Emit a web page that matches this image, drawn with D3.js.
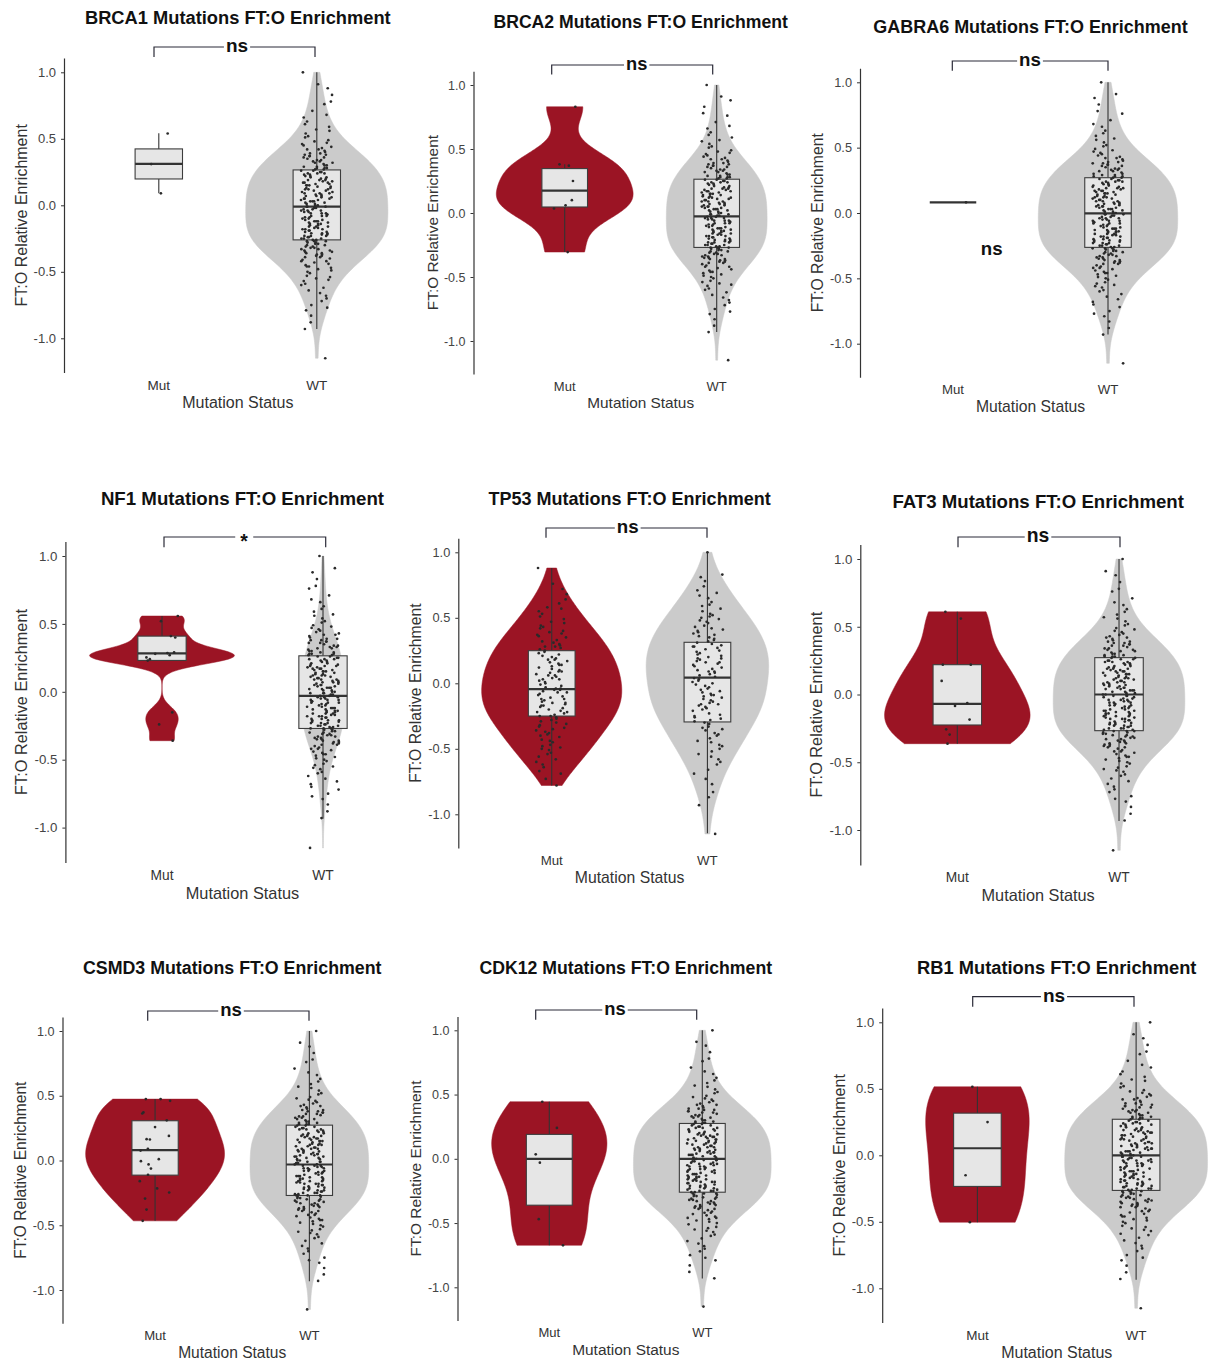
<!DOCTYPE html>
<html><head><meta charset="utf-8">
<script src="https://cdn.jsdelivr.net/npm/d3@7"></script>
<style>
body{margin:0;background:#fff}
svg{display:block}
text{font-family:"Liberation Sans",Arial,Helvetica,sans-serif}
</style>
</head><body>
<svg id="chart" width="1209" height="1361"></svg>
<script>
// ---------------- DATA ----------------
const genes = ["BRCA1","BRCA2","GABRA6","NF1","TP53","FAT3","CSMD3","CDK12","RB1"];
const categories = ["Mut","WT"];
const signifLabels = ["ns","ns","ns","*","ns","ns","ns","ns","ns"];
const yTicks = [-1.0,-0.5,0.0,0.5,1.0];

// Wild-type cohort (shared by most panels)
const wtCohort = [
 1.00,0.91,0.88,0.83,0.78,0.76,0.71,0.68,0.66,0.63,0.61,
 0.59,0.57,0.56,0.54,0.52,0.51,
 0.49,0.48,0.47,0.46,0.45,0.44,0.43,0.42,0.42,0.41,0.40,
 0.39,0.39,0.38,0.38,0.37,0.37,0.36,0.36,0.35,0.34,0.34,0.33,0.33,0.32,0.32,0.31,0.30,0.30,
 0.29,0.29,0.28,0.28,0.28,0.27,0.27,0.26,0.26,0.25,0.25,0.24,0.24,0.24,0.23,0.23,0.22,0.22,0.21,0.21,0.20,0.20,
 0.19,0.19,0.19,0.18,0.18,0.17,0.17,0.17,0.16,0.16,0.15,0.15,0.15,0.14,0.14,0.13,0.13,0.12,0.12,0.12,0.11,0.11,0.10,0.10,
 0.09,0.09,0.09,0.08,0.08,0.07,0.07,0.07,0.06,0.06,0.05,0.05,0.05,0.04,0.04,0.03,0.03,0.03,0.02,0.02,0.01,0.01,0.00,0.00,
 -0.01,-0.01,-0.01,-0.02,-0.02,-0.03,-0.03,-0.04,-0.04,-0.04,-0.05,-0.05,-0.06,-0.06,-0.06,-0.07,-0.07,-0.08,-0.08,-0.08,-0.09,-0.09,-0.10,-0.10,
 -0.11,-0.11,-0.12,-0.12,-0.12,-0.13,-0.13,-0.14,-0.14,-0.14,-0.15,-0.15,-0.16,-0.16,-0.16,-0.17,-0.17,-0.18,-0.18,-0.18,-0.19,-0.19,-0.20,-0.20,
 -0.21,-0.21,-0.21,-0.22,-0.22,-0.23,-0.23,-0.23,-0.24,-0.24,-0.25,-0.25,-0.25,-0.26,-0.26,-0.27,-0.27,-0.27,-0.28,-0.28,-0.29,-0.29,-0.30,-0.30,
 -0.31,-0.31,-0.32,-0.32,-0.33,-0.33,-0.34,-0.34,-0.35,-0.35,-0.36,-0.36,-0.37,-0.37,-0.38,-0.38,-0.39,-0.39,-0.40,
 -0.41,-0.42,-0.42,-0.43,-0.44,-0.45,-0.46,-0.46,-0.47,-0.48,-0.49,-0.50,
 -0.51,-0.53,-0.54,-0.55,-0.56,-0.57,-0.59,-0.60,
 -0.62,-0.64,-0.66,-0.68,-0.70,
 -0.72,-0.75,-0.77,-0.79,-0.83,-0.88,-0.93,-1.15
];
const tp53Mut = [
 0.88,0.76,0.72,0.68,0.64,0.61,0.58,0.57,0.55,0.53,0.51,
 0.49,0.47,0.46,0.44,0.43,0.42,0.40,0.39,0.38,0.37,0.36,0.35,0.33,0.32,0.31,0.30,
 0.29,0.28,0.28,0.27,0.26,0.25,0.24,0.23,0.22,0.21,0.20,
 0.19,0.18,0.18,0.17,0.16,0.15,0.14,0.14,0.13,0.12,0.11,0.10,
 0.09,0.09,0.08,0.07,0.06,0.06,0.05,0.04,0.03,0.03,0.02,0.01,0.00,
 -0.01,-0.02,-0.03,-0.04,-0.04,-0.05,-0.05,-0.06,-0.07,-0.07,-0.08,-0.09,-0.10,
 -0.11,-0.12,-0.12,-0.13,-0.14,-0.15,-0.15,-0.16,-0.17,-0.17,-0.18,-0.19,-0.20,
 -0.21,-0.22,-0.22,-0.23,-0.24,-0.25,-0.25,-0.26,-0.27,-0.28,-0.29,-0.30,
 -0.31,-0.32,-0.33,-0.34,-0.35,-0.36,-0.37,-0.38,-0.39,-0.40,
 -0.41,-0.43,-0.44,-0.45,-0.47,-0.48,-0.49,-0.50,
 -0.51,-0.53,-0.54,-0.56,-0.58,-0.60,-0.62,-0.64,-0.67,-0.69,-0.73,-0.78
];
const tp53WT = [
 1.00,0.83,0.81,0.78,0.74,0.71,0.69,0.67,0.65,0.62,0.60,
 0.59,0.57,0.55,0.53,0.52,0.51,0.50,
 0.49,0.48,0.47,0.46,0.44,0.43,0.42,0.41,0.40,
 0.39,0.38,0.37,0.36,0.35,0.34,0.33,0.32,0.31,0.30,
 0.29,0.28,0.28,0.27,0.26,0.25,0.24,0.23,0.22,0.21,0.20,
 0.19,0.19,0.18,0.17,0.16,0.16,0.15,0.14,0.13,0.12,0.11,0.10,
 0.09,0.09,0.08,0.07,0.06,0.05,0.04,0.03,0.02,0.01,0.00,
 -0.01,-0.02,-0.03,-0.04,-0.05,-0.06,-0.07,-0.08,-0.09,-0.09,-0.10,
 -0.11,-0.12,-0.13,-0.14,-0.15,-0.16,-0.16,-0.17,-0.18,-0.19,-0.20,
 -0.21,-0.23,-0.24,-0.25,-0.26,-0.27,-0.28,-0.29,-0.30,
 -0.31,-0.33,-0.34,-0.35,-0.36,-0.38,-0.39,-0.40,
 -0.42,-0.44,-0.45,-0.47,-0.48,-0.50,
 -0.52,-0.54,-0.56,-0.58,-0.60,-0.62,-0.66,-0.69,-0.73,-0.77,-0.83,-0.87,-0.93,-1.15
];
const brca1Mut = [0.54,0.31,0.09];
const brca2Mut = [0.83,0.38,0.37,0.25,0.10,0.06,0.035,-0.305];
const gabra6Mut = [0.082];
const nf1Mut = [0.558,0.52,0.41,0.40,0.29,0.285,0.28,0.27,0.253,0.24,0.23,-0.152,-0.24,-0.36];
const fat3Mut = [0.61,0.56,0.22,0.22,0.10,-0.064,-0.084,-0.185,-0.257,-0.296,-0.363];
const csmd3Mut = [0.474,0.474,0.461,0.371,0.363,0.31,0.258,0.19,0.165,0.162,0.09,0.077,0.01,-0.005,-0.03,-0.062,-0.11,-0.16,-0.216,-0.247,-0.294,-0.379,-0.466];
const cdk12Mut = [0.444,0.24,0.035,-0.03,-0.47,-0.673];
const rb1Mut = [0.515,0.25,-0.15,-0.503];

const mutPoints = [brca1Mut,brca2Mut,gabra6Mut,nf1Mut,tp53Mut,fat3Mut,csmd3Mut,cdk12Mut,rb1Mut];
const wtPoints  = [wtCohort,wtCohort,wtCohort,wtCohort,tp53WT,wtCohort,wtCohort,wtCohort,wtCohort];

// Box summaries: [lower whisker, Q1, median, Q3, upper whisker]
const mutBox = [
 [0.09,0.198,0.311,0.424,0.541],
 [-0.305,0.047,0.175,0.347,0.381],
 [0.082,0.082,0.082,0.082,0.082],
 [0.231,0.231,0.283,0.41,0.558],
 [-0.78,-0.25,-0.045,0.249,0.88],
 [-0.363,-0.225,-0.069,0.22,0.61],
 [-0.466,-0.113,0.08,0.307,0.474],
 [-0.673,-0.361,0.0,0.19,0.444],
 [-0.503,-0.234,0.053,0.317,0.515]
];
const wtBox = [
 [-0.93,-0.26,-0.01,0.266,1.0],
 [-0.93,-0.269,-0.026,0.264,1.0],
 [-0.93,-0.263,-0.003,0.27,1.0],
 [-0.934,-0.27,-0.03,0.265,1.0],
 [-1.145,-0.295,0.043,0.313,1.0],
 [-0.933,-0.267,0.0,0.272,1.0],
 [-0.933,-0.27,-0.031,0.273,1.0],
 [-0.932,-0.26,0.0,0.275,1.0],
 [-0.935,-0.264,0.0,0.271,1.0]
];
// stray annotation (GABRA6 panel)
const extraPanel = [2];
const extraText = ["ns"];
const extraX = [1.25];   // category coordinate (1 = Mut, 2 = WT)
const extraY = [-0.283];

// ---------------- LAYOUT ----------------
// ox: axis x, s: category spacing, y1: pixel of value 1.0, k: px per unit
const layout = [
 {ox:64,   s:158,   y1:72.3,   k:133,   titleY:18,    brY:47,    brX1:154,   brX2:315,   txtX:237},
 {ox:473.5,s:152,   y1:85,     k:128,   titleY:22,    brY:65,    brX1:551.7, brX2:712.7, txtX:636.7},
 {ox:860,  s:155,   y1:82.3,   k:130.7, titleY:27,    brY:61,    brX1:952.3, brX2:1108,  txtX:1030},
 {ox:65.4, s:161,   y1:556,    k:135.8, titleY:498,   brY:537,   brX1:164,   brX2:325.7, txtX:244},
 {ox:458.3,s:155.7, y1:552.3,  k:131,   titleY:499,   brY:528,   brX1:546,   brX2:707,   txtX:627.7},
 {ox:860.3,s:161.7, y1:559,    k:135.5, titleY:501.7, brY:537,   brX1:958,   brX2:1120,  txtX:1038},
 {ox:62.5, s:154.3, y1:1031,   k:129.5, titleY:968,   brY:1011,  brX1:147.7, brX2:309,   txtX:231},
 {ox:457.5,s:153,   y1:1030.3, k:128.5, titleY:968,   brY:1010,  brX1:535.7, brX2:696.7, txtX:615},
 {ox:882.2,s:158.7, y1:1022.3, k:133,   titleY:967.3, brY:996.7, brX1:972.7, brX2:1134,  txtX:1054}
];
const fillMut = "#9B1424", fillWT = "#CBCBCB", boxFill = "#E6E6E6", ink = "#333333";
const FONT = '"Liberation Sans",Arial,Helvetica,sans-serif';

// ---------------- HELPERS ----------------
function nrd0(v){
  const s = v.slice().sort(d3.ascending);
  const sd = d3.deviation(s);
  const iqr = d3.quantile(s,0.75) - d3.quantile(s,0.25);
  let lo = Math.min(sd, iqr/1.34);
  if(!(lo>0)) lo = sd || 1;
  return 0.9*lo*Math.pow(s.length,-0.2);
}
function kde(v){
  const bw = nrd0(v);
  const lo = d3.min(v), hi = d3.max(v);
  const grid = d3.range(0,161).map(j => lo + (hi-lo)*j/160);
  const c = 1/Math.sqrt(2*Math.PI);
  return grid.map(t => [t, d3.mean(v, x => c*Math.exp(-0.5*((t-x)/bw)**2))/bw]);
}
// deterministic horizontal spread in [-1,1] (equidistributed Weyl sequence on squares)
function spread(j, seed){ const n = j + 1; return (((n*n*0.41421356237 + n*0.2360679775 + seed) % 1) * 2 - 1); }

const svg = d3.select("#chart");

genes.forEach((gene, i) => {
  const L = layout[i];
  const f = L.k/133;
  const g = svg.append("g");
  const y = d3.scaleLinear().domain([-1.2575, 1.1075]).range([L.y1 + 2.2575*L.k, L.y1 - 0.1075*L.k]);
  const x = d3.scalePoint().domain(categories).range([L.ox + 0.6*L.s, L.ox + 1.6*L.s]);
  const yTop = y.range()[1], yBot = y.range()[0];

  const groups = [
    {cat:"Mut", vals:mutPoints[i], box:mutBox[i], fill:fillMut, seed:0.13 + i*0.07},
    {cat:"WT",  vals:wtPoints[i],  box:wtBox[i],  fill:fillWT,  seed:0.41 + i*0.11}
  ];
  groups.forEach(gr => { gr.dens = gr.vals.length >= 4 ? kde(gr.vals) : null; });
  const maxD = d3.max(groups, gr => gr.dens ? d3.max(gr.dens, d => d[1]) : 0);
  const w = d3.scaleLinear().domain([0, maxD]).range([0, 0.45*L.s]);

  // violins
  groups.forEach(gr => {
    if(!gr.dens) return;
    const cx = x(gr.cat);
    const area = d3.area()
      .y(d => y(d[0]))
      .x0(d => cx - w(d[1]))
      .x1(d => cx + w(d[1]))
      .curve(d3.curveLinear);
    g.append("path").datum(gr.dens).attr("d", area).attr("fill", gr.fill).attr("stroke", gr.fill).attr("stroke-width",0.5);
  });

  // boxes
  const bw = 0.3*L.s;
  groups.forEach(gr => {
    const cx = x(gr.cat);
    const [lo,q1,med,q3,hi] = gr.box;
    g.append("line").attr("x1",cx).attr("x2",cx).attr("y1",y(q3)).attr("y2",y(hi))
      .attr("stroke",ink).attr("stroke-width",1.1);
    g.append("line").attr("x1",cx).attr("x2",cx).attr("y1",y(q1)).attr("y2",y(lo))
      .attr("stroke",ink).attr("stroke-width",1.1);
    if(q3 > q1){
      g.append("rect").attr("x",cx-bw/2).attr("width",bw).attr("y",y(q3)).attr("height",y(q1)-y(q3))
        .attr("fill",boxFill).attr("stroke","#3d3d3d").attr("stroke-width",1.1);
    }
    g.append("line").attr("x1",cx-bw/2).attr("x2",cx+bw/2).attr("y1",y(med)).attr("y2",y(med))
      .attr("stroke",ink).attr("stroke-width",2.2);
  });

  // jittered points (jitter width 0.1 of category spacing)
  groups.forEach(gr => {
    const cx = x(gr.cat);
    g.append("g").selectAll("circle").data(gr.vals).join("circle")
      .attr("cx",(d,j) => cx + spread(j, gr.seed)*0.1*L.s)
      .attr("cy",d => y(d))
      .attr("r",1.35)
      .attr("fill","#2a2a2a");
  });

  // y axis
  const axis = d3.axisLeft(y).tickValues(yTicks).tickSize(3).tickSizeOuter(0).tickPadding(5)
    .tickFormat(d => d.toFixed(1));
  const ag = g.append("g").attr("transform",`translate(${L.ox},0)`).call(axis)
    .attr("font-size",null).attr("font-family",null);
  ag.select(".domain").attr("stroke",ink).attr("stroke-width",1.2);
  ag.selectAll(".tick line").attr("stroke",ink).attr("stroke-width",1);
  ag.selectAll(".tick text").attr("fill","#444").style("font-size",(13*f)+"px").style("font-family",FONT);

  // x tick labels
  g.selectAll(".xl").data(categories).join("text")
    .attr("x", d => x(d)).attr("y", yBot + 12.5*f).attr("dy","0.35em")
    .attr("text-anchor","middle").attr("fill","#333").style("font-size",(13.5*f)+"px")
    .text(d => d);
  // x title
  g.append("text").attr("x", L.ox + 1.1*L.s).attr("y", yBot + 30*f).attr("dy","0.35em")
    .attr("text-anchor","middle").attr("fill","#333").style("font-size",(16*f)+"px")
    .text("Mutation Status");
  // y title
  g.append("text").attr("transform",`translate(${L.ox - 43*f},${(yTop+yBot)/2}) rotate(-90)`)
    .attr("dy","0.35em").attr("text-anchor","middle").attr("fill","#333").style("font-size",(16*f)+"px")
    .text("FT:O Relative Enrichment");
  // title
  g.append("text").attr("x", L.ox + 1.1*L.s).attr("y", L.titleY).attr("dy","0.35em")
    .attr("text-anchor","middle").attr("fill","#111").style("font-weight","bold").style("font-size",(18.3*f)+"px")
    .text(`${gene} Mutations FT:O Enrichment`);

  // significance bracket
  const lab = signifLabels[i];
  const t = g.append("text").attr("x", L.txtX).attr("y", L.brY)
    .attr("dy", lab === "*" ? "0.55em" : "0.27em")
    .attr("text-anchor","middle").attr("fill","#111").style("font-weight","bold").style("font-size",(19*f)+"px")
    .text(lab);
  const bb = t.node().getBBox();
  const pad = lab === "*" ? 5 : 2;
  const tip = 10*f;
  g.append("path").attr("fill","none").attr("stroke","#2b2b38").attr("stroke-width",1.2)
    .attr("d",`M${L.brX1},${L.brY+tip}V${L.brY}H${bb.x-pad}M${bb.x+bb.width+pad},${L.brY}H${L.brX2}V${L.brY+tip}`);

  // extra annotations
  extraPanel.forEach((pi, e) => {
    if(pi !== i) return;
    const xm = x("Mut"), xw = x("WT");
    g.append("text").attr("x", xm + (extraX[e]-1)*(xw-xm)).attr("y", y(extraY[e])).attr("dy","0.27em")
      .attr("text-anchor","middle").attr("fill","#111").style("font-weight","bold").style("font-size",(19*f)+"px")
      .text(extraText[e]);
  });
});
</script>
</body></html>
